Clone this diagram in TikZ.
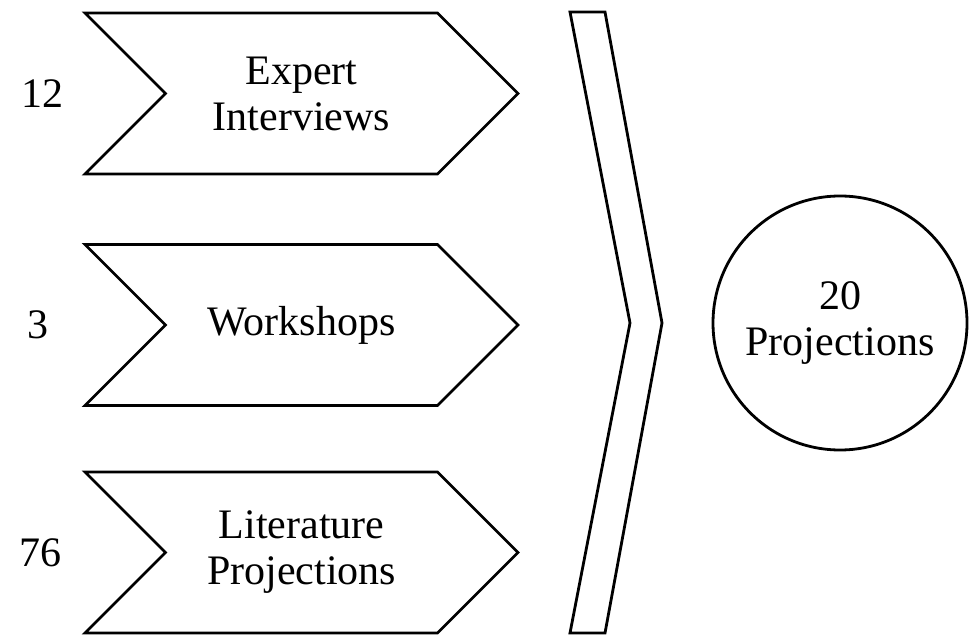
\documentclass[tikz,border=0pt]{standalone}
\usepackage{fontspec}
\setmainfont{Liberation Serif}
\usetikzlibrary{shapes.symbols, shapes.geometric, positioning}

\tikzset{
  chev/.style={draw, signal, signal from=west, signal to=east, signal pointer angle=90,
    minimum width=216.5pt, minimum height=80.5pt, inner sep=0pt, align=center},
  result/.style={draw, circle, minimum size=127pt, inner sep=0pt, align=center},
  count/.style={inner sep=0pt}
}

\begin{document}
\begin{tikzpicture}[x=0.5pt, y=-0.5pt, line width=1.4pt, font=\fontsize{21}{23}\selectfont]
  \useasboundingbox (0,0) rectangle (972,635);

  \node[chev] (expert) at (301.5,93.5) {Expert\\Interviews};
  \node[chev] (workshop) at (301.5,325) {Workshops};
  \node[chev] (literature) at (301.5,552.5) {Literature\\Projections};

  \node[count] (n1) at (42,94) {12};
  \node[count] (n2) at (38,325) {3};
  \node[count] (n3) at (40,553) {76};

  % tall merging chevron
  \draw[line join=miter] (570,12) -- (605,12) -- (662,323) -- (605,633)
    -- (570,633) -- (630,323) -- cycle;

  \node[result] (proj) at (840,323) {20\\Projections};
\end{tikzpicture}
\end{document}
